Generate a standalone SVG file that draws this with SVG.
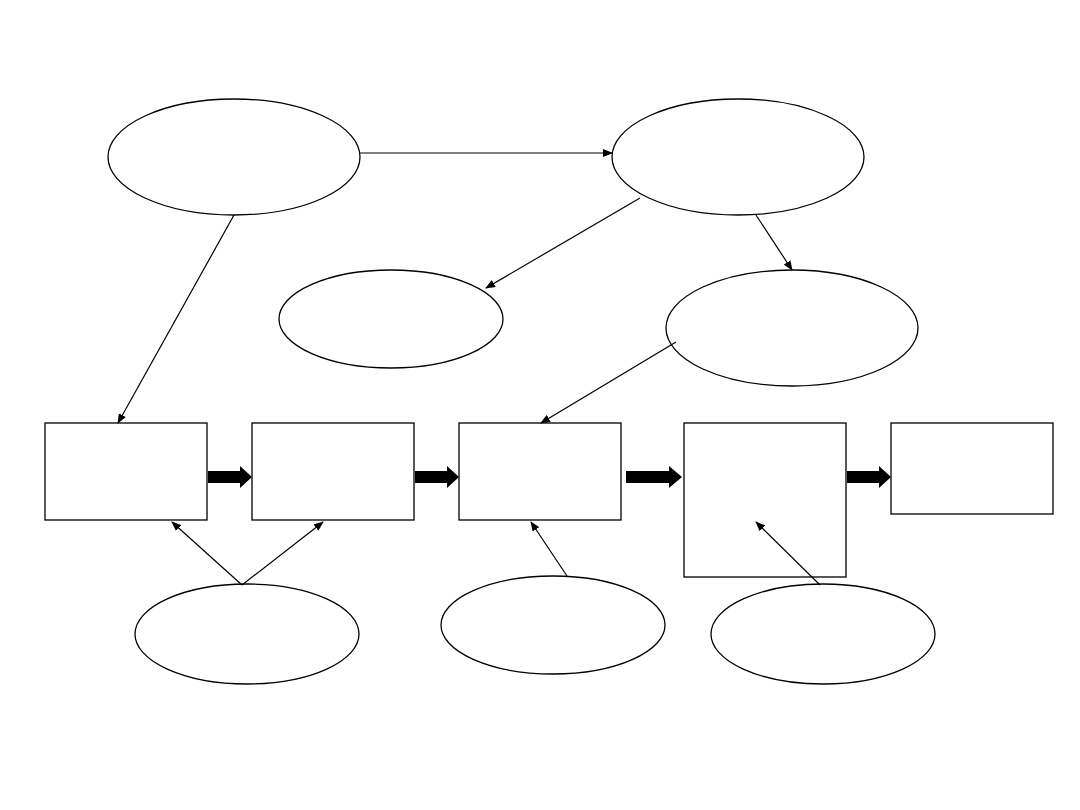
<svg xmlns="http://www.w3.org/2000/svg" width="1080" height="810" viewBox="0 0 1080 810">
<style>
.n{fill:#fff;stroke:#000;stroke-width:1.3}
.c{stroke:#000;stroke-width:1.2;fill:none;marker-end:url(#ah)}
.t{fill:#000;stroke:none}
</style>
<defs>
<marker id="ah" markerWidth="10" markerHeight="8" refX="9" refY="4" orient="auto" markerUnits="userSpaceOnUse">
<path d="M0,0 L10,4 L0,8 Z" fill="#000"/>
</marker>
</defs>
<rect width="1080" height="810" fill="#fff"/>
<g id="e1"><ellipse class="n" cx="234" cy="157" rx="126" ry="58"/></g>
<g id="e2"><ellipse class="n" cx="738" cy="157" rx="126" ry="58"/></g>
<g id="e3"><ellipse class="n" cx="391" cy="319" rx="112" ry="49"/></g>
<g id="e4"><ellipse class="n" cx="792" cy="328" rx="126" ry="58"/></g>
<g id="e5"><ellipse class="n" cx="247" cy="634" rx="112" ry="50"/></g>
<g id="e6"><ellipse class="n" cx="553" cy="625" rx="112" ry="49"/></g>
<g id="e7"><ellipse class="n" cx="823" cy="634" rx="112" ry="50"/></g>
<g id="r1"><rect class="n" x="45" y="423" width="162" height="97"/></g>
<g id="r2"><rect class="n" x="252" y="423" width="162" height="97"/></g>
<g id="r3"><rect class="n" x="459" y="423" width="162" height="97"/></g>
<g id="r4"><rect class="n" x="684" y="423" width="162" height="154"/></g>
<g id="r5"><rect class="n" x="891" y="423" width="162" height="91"/></g>
<g id="connectors">
<path class="c" d="M360,153 L612,153"/>
<path class="c" d="M234,215 L118,423"/>
<path class="c" d="M640,198 L486,288"/>
<path class="c" d="M756,215 L792,270"/>
<path class="c" d="M676,342 L541,423"/>
<path class="c" d="M242,585 L172,522"/>
<path class="c" d="M242,585 L323,522"/>
<path class="c" d="M567,576 L531,522"/>
<path class="c" d="M820,585 L756,522"/>
<path class="t" d="M208,471 L240,471 L240,466 L252,477 L240,488 L240,483 L208,483 Z"/>
<path class="t" d="M415,471 L447,471 L447,466 L459,477 L447,488 L447,483 L415,483 Z"/>
<path class="t" d="M626,471 L669,471 L669,466 L682,477 L669,488 L669,483 L626,483 Z"/>
<path class="t" d="M847,471 L879,471 L879,466 L891,477 L879,488 L879,483 L847,483 Z"/>
</g>
</svg>
